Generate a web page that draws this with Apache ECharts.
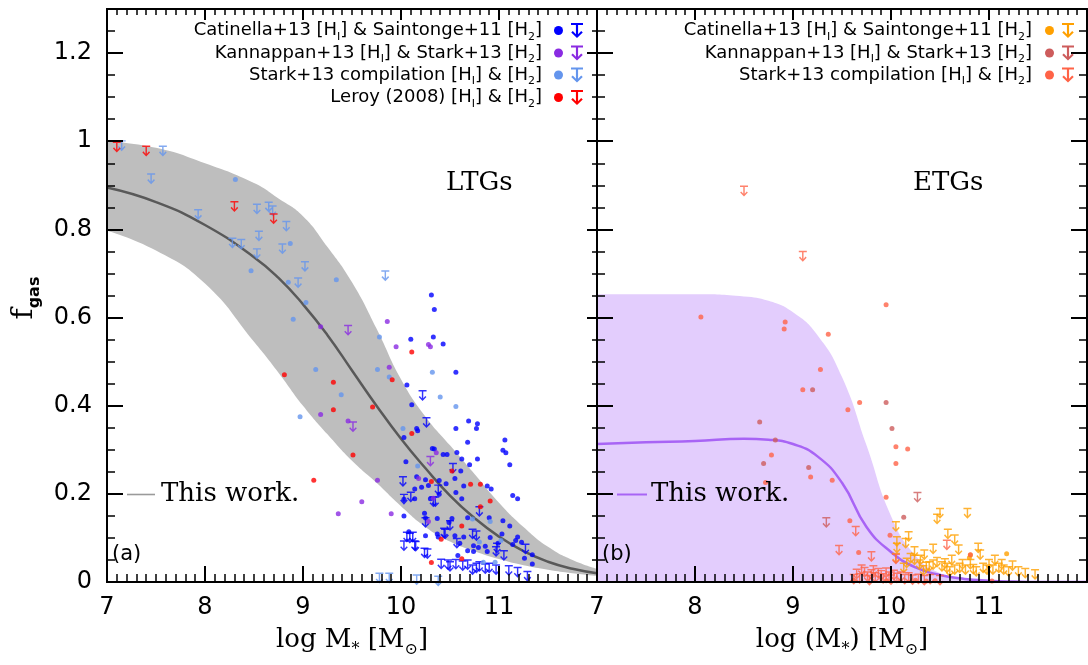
<!DOCTYPE html>
<html>
<head>
<meta charset="utf-8">
<script src="https://cdn.jsdelivr.net/npm/echarts@6/dist/echarts.min.js"></script>
<style>
  html, body { margin: 0; padding: 0; background: #fff; }
  #chart { width: 1088px; height: 665px; }
</style>
</head>
<body>
<div id="chart"></div>
<script>
// ---- model curves: gas fraction vs stellar mass ----
const bandX = [7, 7.5, 8, 8.5, 8.75, 9, 9.25, 9.5, 9.75, 10, 10.25, 10.5, 10.75, 11, 11.25, 11.5, 11.75, 12];
const ltgUpper = [1.0, 0.985, 0.95, 0.905, 0.87, 0.83, 0.76, 0.68, 0.575, 0.46, 0.375, 0.31, 0.245, 0.18, 0.125, 0.08, 0.05, 0.03];
const ltgLower = [0.797, 0.752, 0.677, 0.545, 0.475, 0.40, 0.335, 0.275, 0.225, 0.172, 0.125, 0.092, 0.07, 0.052, 0.038, 0.028, 0.02, 0.014];
const ltgMedian = [0.895, 0.862, 0.81, 0.737, 0.69, 0.63, 0.56, 0.48, 0.40, 0.325, 0.258, 0.196, 0.145, 0.103, 0.07, 0.046, 0.03, 0.02];
const etgUpper = [0.653, 0.653, 0.653, 0.648, 0.638, 0.612, 0.56, 0.465, 0.31, 0.15, 0.06, 0.02, 0.008, 0.004, 0.002, 0.001, 0, 0];
const etgMedian = [0.313, 0.317, 0.320, 0.325, 0.323, 0.313, 0.285, 0.225, 0.125, 0.068, 0.033, 0.016, 0.007, 0.003, 0.001, 0, 0, 0];

// ---- late-type galaxies ----
const ltgCatinellaDet = [[10.31,0.651],[10.34,0.618],[10.33,0.556],[10.10,0.551],[10.43,0.540],[10.56,0.476],[10.06,0.447],[10.11,0.402],[10.56,0.348],[10.16,0.348],[10.17,0.343],[10.03,0.328],[10.69,0.365],[10.78,0.359],[10.77,0.348],[10.68,0.317],[10.34,0.302],[10.43,0.289],[10.47,0.289],[10.57,0.294],[10.62,0.279],[10.78,0.279],[10.70,0.266],[11.06,0.322],[11.04,0.299],[11.07,0.293],[11.11,0.266],[10.05,0.273],[10.16,0.239],[10.25,0.232],[10.39,0.230],[10.55,0.235],[10.61,0.252],[10.46,0.223],[10.64,0.218],[10.14,0.211],[10.21,0.215],[10.28,0.219],[10.39,0.199],[10.56,0.203],[10.62,0.189],[10.88,0.218],[10.92,0.211],[11.14,0.196],[11.19,0.189],[10.03,0.188],[10.14,0.189],[10.30,0.189],[10.03,0.150],[10.24,0.156],[10.25,0.145],[10.37,0.144],[10.52,0.144],[10.49,0.135],[10.68,0.146],[10.90,0.146],[11.04,0.139],[11.11,0.127],[10.08,0.114],[10.25,0.105],[10.37,0.109],[10.55,0.105],[10.64,0.102],[10.74,0.082],[10.79,0.078],[10.86,0.081],[10.91,0.101],[11.03,0.109],[11.19,0.102],[11.17,0.094],[11.23,0.090],[11.14,0.085],[10.99,0.088],[10.60,0.088],[10.68,0.071],[10.74,0.069],[10.88,0.069],[10.58,0.060],[11.34,0.062],[11.34,0.041],[11.26,0.054],[10.38,0.102],[10.32,0.303]];
const ltgCatinellaLim = [[10.22,0.423],[10.26,0.362],[10.53,0.258],[10.02,0.228],[10.03,0.188],[10.10,0.193],[10.33,0.182],[10.38,0.209],[10.80,0.160],[10.25,0.135],[10.50,0.128],[10.45,0.109],[10.57,0.088],[10.73,0.109],[10.77,0.105],[10.06,0.102],[10.03,0.082],[10.12,0.102],[10.14,0.082],[10.24,0.066],[10.27,0.064],[10.97,0.069],[11.05,0.060],[11.27,0.075],[10.41,0.041],[10.50,0.035],[10.63,0.037],[10.68,0.039],[10.77,0.032],[10.90,0.032],[10.97,0.028],[11.10,0.026],[11.19,0.022],[11.29,0.013],[10.73,0.028],[10.80,0.035],[10.48,0.039],[10.98,0.077],[10.44,0.111],[10.15,0.081],[10.09,0.100],[10.35,0.182],[10.56,0.040],[10.86,0.030]];
const ltgKannappanDet = [[9.18,0.579],[9.18,0.380],[9.46,0.365],[9.86,0.591],[9.95,0.534],[10.28,0.539],[10.30,0.534],[9.88,0.487],[9.36,0.155],[9.60,0.182],[9.76,0.231],[9.90,0.155],[10.36,0.293],[10.18,0.235],[10.28,0.137],[10.33,0.190]];
const ltgKannappanLim = [[9.46,0.571],[9.51,0.352],[10.30,0.274]];
const ltgStarkDet = [[8.31,0.913],[8.47,0.706],[8.87,0.768],[8.85,0.680],[8.90,0.596],[9.34,0.686],[9.03,0.634],[9.13,0.482],[9.39,0.425],[8.97,0.375],[9.78,0.556],[9.76,0.482],[9.88,0.465],[10.32,0.476],[10.40,0.420],[10.56,0.398],[10.02,0.348],[10.17,0.263],[10.73,0.143],[10.80,0.091],[11.02,0.094],[10.84,0.045],[10.96,0.045],[10.91,0.137]];
const ltgStarkLim = [[7.15,0.990],[7.57,0.978],[7.45,0.915],[7.93,0.834],[8.28,0.769],[8.37,0.766],[8.53,0.846],[8.65,0.851],[8.69,0.842],[8.83,0.807],[8.55,0.785],[8.53,0.745],[8.79,0.756],[8.95,0.679],[9.02,0.716],[9.84,0.695],[9.78,0.009],[9.88,0.009],[10.16,0.005],[10.38,0.002]];
const ltgLeroyDet = [[8.81,0.470],[9.31,0.453],[9.31,0.391],[9.51,0.288],[9.71,0.397],[9.91,0.459],[10.11,0.522],[9.11,0.231],[10.11,0.337],[10.31,0.228],[10.52,0.252],[10.71,0.222],[10.81,0.222],[10.91,0.184],[10.81,0.171],[10.62,0.127],[10.41,0.097],[10.31,0.044],[10.62,0.053]];
const ltgLeroyLim = [[7.10,0.987],[7.40,0.978],[8.30,0.852],[8.70,0.824]];

// ---- early-type galaxies ----
const etgCatinellaDet = [[11.18,0.064],[10.81,0.061],[10.80,0.055]];
const etgCatinellaLim = [[10.05,0.126],[10.06,0.092],[10.06,0.077],[10.18,0.103],[10.15,0.088],[10.05,0.054],[10.20,0.054],[10.24,0.069],[10.30,0.050],[10.34,0.062],[10.43,0.075],[10.47,0.143],[10.50,0.156],[10.78,0.156],[10.58,0.109],[10.65,0.096],[10.69,0.073],[10.43,0.039],[10.52,0.035],[10.62,0.050],[10.70,0.032],[10.89,0.077],[10.91,0.062],[10.84,0.029],[10.94,0.032],[11.06,0.050],[11.04,0.028],[11.15,0.028],[11.24,0.037],[11.30,0.024],[11.37,0.020],[11.47,0.017],[10.29,0.039],[10.36,0.034],[10.57,0.032],[10.65,0.028],[10.76,0.028],[10.98,0.028],[11.10,0.032],[11.20,0.024],[10.24,0.050],[10.39,0.035],[10.87,0.024],[10.16,0.043],[10.13,0.032],[10.47,0.045],[10.55,0.042],[10.73,0.040],[11.00,0.040],[11.13,0.040],[10.81,0.040],[10.33,0.026],[10.60,0.024]];
const etgKannappanDet = [[9.20,0.436],[9.95,0.407],[10.01,0.348],[8.66,0.363],[8.82,0.322],[10.13,0.147],[9.16,0.260],[8.70,0.269]];
const etgKannappanLim = [[10.27,0.192],[9.34,0.135]];
const etgStarkDet = [[8.06,0.601],[8.92,0.590],[8.91,0.574],[9.36,0.562],[9.28,0.482],[9.10,0.436],[9.68,0.407],[9.56,0.391],[9.95,0.629],[10.05,0.307],[10.17,0.302],[10.05,0.269],[9.95,0.192],[9.99,0.106],[9.67,0.067],[9.58,0.139],[8.78,0.288],[9.18,0.238],[9.40,0.231],[8.72,0.226],[10.81,0.062],[9.62,0.004],[9.95,0.003],[10.25,0.004],[10.45,0.003],[11.03,0.002],[10.36,0.002]];
const etgStarkLim = [[8.50,0.887],[9.10,0.739],[9.64,0.115],[9.47,0.072],[9.80,0.058],[10.05,0.052],[10.57,0.084],[9.65,0.018],[9.70,0.028],[9.73,0.022],[9.76,0.012],[9.80,0.017],[9.82,0.026],[9.84,0.010],[9.87,0.020],[9.90,0.015],[9.92,0.008],[9.95,0.021],[9.98,0.012],[10.00,0.005],[10.03,0.016],[10.06,0.009],[10.10,0.012],[10.14,0.006],[10.18,0.010],[10.22,0.005],[10.28,0.007],[10.34,0.004],[10.40,0.006],[10.50,0.004],[9.62,0.006],[9.68,0.008],[9.78,0.004]];

// ---- styling ----
const SANS = 'DejaVu Sans';
const SERIF = 'DejaVu Serif';
const COL = {
  blue: '#0000ff', purple: '#8a2be2', cornflower: '#6495ed', red: '#ff0000',
  orange: '#ffa000', indian: '#cd5c5c', tomato: '#ff6347',
  ltgBand: '#bebebe', ltgLine: '#595959', etgBand: '#e3cdfd', etgLine: '#a864f5'
};
// upper-limit marker: bar on top, stem, downward chevron (10 x 12.6 box)
const ARROW_PTS = [[0,0],[10,0],[10,1.7],[5.9,1.7],[5.9,9.4],[8.5,6.7],[9.8,8.0],[5,12.6],[0.2,8.0],[1.5,6.7],[4.1,9.4],[4.1,1.7],[0,1.7]];
const ARROW = 'path://M' + ARROW_PTS.map(p => p.join(',')).join(' L') + ' Z';

const pairs = (xs, ys) => xs.map((x, i) => [x, ys[i]]);

function xAxesFor(gi) {
  const common = {
    type: 'value', gridIndex: gi, min: 7, max: 12, interval: 1, z: 10,
    axisLine: { show: true, onZero: false, lineStyle: { color: '#000', width: 2 } },
    splitLine: { show: false }, minorSplitLine: { show: false }
  };
  return [
    Object.assign({}, common, {
      position: 'bottom',
      axisTick: { show: true, inside: true, length: 16, lineStyle: { color: '#000', width: 2 } },
      minorTick: { show: true, splitNumber: 10, length: 8, lineStyle: { color: '#000', width: 1.5 } },
      axisLabel: { show: true, color: '#000', fontFamily: SANS, fontSize: 24, margin: 14, showMaxLabel: false, showMinLabel: true }
    }),
    Object.assign({}, common, {
      position: 'top',
      axisTick: { show: true, inside: true, length: 11, lineStyle: { color: '#000', width: 2 } },
      minorTick: { show: true, splitNumber: 10, length: 6, lineStyle: { color: '#000', width: 1.5 } },
      axisLabel: { show: false }
    })
  ];
}

function yAxesFor(gi, showLabels, rightMajor, rightMinor) {
  const common = {
    type: 'value', gridIndex: gi, min: 0, max: 1.3, z: 10,
    axisLine: { show: true, onZero: false, lineStyle: { color: '#000', width: 2 } },
    splitLine: { show: false }
  };
  const major = (pos, len, labels) => Object.assign({}, common, {
    position: pos, interval: 0.2,
    axisTick: { show: true, inside: true, length: len, lineStyle: { color: '#000', width: 2 } },
    axisLabel: labels
      ? { show: true, color: '#000', fontFamily: SANS, fontSize: 24, margin: 15, showMaxLabel: false, showMinLabel: true }
      : { show: false }
  });
  const minor = (pos, len) => Object.assign({}, common, {
    position: pos, interval: 0.05,
    axisTick: { show: true, inside: true, length: len, lineStyle: { color: '#000', width: 1.5 } },
    axisLabel: { show: false }
  });
  return [major('left', 16, showLabels), minor('left', 8), major('right', rightMajor, false), minor('right', rightMinor)];
}

function dots(name, data, color, gi) {
  return { type: 'scatter', name, data, xAxisIndex: gi * 2, yAxisIndex: gi * 4,
    symbol: 'circle', symbolSize: 5, itemStyle: { color }, z: 4, silent: true };
}
function limits(name, data, color, gi) {
  return { type: 'scatter', name, data, xAxisIndex: gi * 2, yAxisIndex: gi * 4,
    symbol: ARROW, symbolSize: [8, 11], itemStyle: { color }, z: 4, silent: true };
}
function curve(name, xs, ys, gi, extra) {
  return Object.assign({ type: 'line', name, data: pairs(xs, ys), xAxisIndex: gi * 2, yAxisIndex: gi * 4,
    smooth: true, symbol: 'none', silent: true }, extra);
}

// ---- legend and annotation graphics ----
const subRich = (size, lh) => ({
  t: { fontFamily: SANS, fontSize: size, color: '#111', lineHeight: lh, verticalAlign: 'middle' },
  s: { fontFamily: SANS, fontSize: Math.round(size * 0.62), color: '#111', lineHeight: lh, verticalAlign: 'bottom' }
});
const LEGEND_ROWS_Y = [30.5, 53, 75, 97.5];
const ltgLegend = [
  ['{t|Catinella+13 [H}{s|I}{t|] & Saintonge+11 [H}{s|2}{t|]}', COL.blue],
  ['{t|Kannappan+13 [H}{s|I}{t|] & Stark+13 [H}{s|2}{t|]}', COL.purple],
  ['{t|Stark+13 compilation [H}{s|I}{t|] & [H}{s|2}{t|]}', COL.cornflower],
  ['{t|Leroy (2008) [H}{s|I}{t|] & [H}{s|2}{t|]}', COL.red]
];
const etgLegend = [
  ['{t|Catinella+13 [H}{s|I}{t|] & Saintonge+11 [H}{s|2}{t|]}', COL.orange],
  ['{t|Kannappan+13 [H}{s|I}{t|] & Stark+13 [H}{s|2}{t|]}', COL.indian],
  ['{t|Stark+13 compilation [H}{s|I}{t|] & [H}{s|2}{t|]}', COL.tomato]
];

function arrowKey(cx, cy, w, h, color) {
  const sx = w / 10, sy = h / 12.6;
  return { type: 'polygon', z: 20,
    shape: { points: ARROW_PTS.map(p => [cx - w / 2 + p[0] * sx, cy - h / 2 + p[1] * sy]) },
    style: { fill: color } };
}

function legendBlock(rows, textRight, dotX, arrowX) {
  const out = [];
  rows.forEach((r, i) => {
    const y = LEGEND_ROWS_Y[i];
    out.push({ type: 'text', x: textRight, y: y, z: 20,
      style: { text: r[0], rich: subRich(18, 24), align: 'right', verticalAlign: 'middle', textAlign: 'right', textVerticalAlign: 'middle' } });
    out.push({ type: 'circle', z: 20, shape: { cx: dotX, cy: y, r: 4.5 }, style: { fill: r[1] } });
    out.push(arrowKey(arrowX, y, 12, 15, r[1]));
  });
  return out;
}

function plainText(x, y, text, rich, align) {
  return { type: 'text', x, y, z: 20,
    style: { text, rich, align: align || 'left', verticalAlign: 'middle', textAlign: align || 'left', textVerticalAlign: 'middle' } };
}

const serifRich = (size, lh) => ({
  m: { fontFamily: SERIF, fontSize: size, color: '#000', lineHeight: lh, verticalAlign: 'middle' },
  s: { fontFamily: SERIF, fontSize: Math.round(size * 0.6), color: '#000', lineHeight: lh, verticalAlign: 'bottom' }
});

const graphics = []
  .concat(legendBlock(ltgLegend, 542, 558.5, 577))
  .concat(legendBlock(etgLegend, 1032, 1049.5, 1068))
  .concat([
    plainText(446, 183, '{m|LTGs}', serifRich(26, 30)),
    plainText(913, 183, '{m|ETGs}', serifRich(26, 30)),
    plainText(112, 555, '{t|(a)}', subRich(21, 26)),
    plainText(602, 555, '{t|(b)}', subRich(21, 26)),
    { type: 'line', z: 20, shape: { x1: 127, y1: 494.5, x2: 155, y2: 494.5 }, style: { stroke: '#9a9a9a', lineWidth: 1.6 } },
    plainText(161, 494, '{m|This work.}', serifRich(26, 30)),
    { type: 'line', z: 20, shape: { x1: 617, y1: 494.5, x2: 647, y2: 494.5 }, style: { stroke: COL.etgLine, lineWidth: 2 } },
    plainText(651, 494, '{m|This work.}', serifRich(26, 30)),
    plainText(352, 640, '{m|log M}{s|*}{m| [M}{s|⊙}{m|]}', serifRich(26, 36), 'center'),
    plainText(842, 640, '{m|log (M}{s|*}{m|) [M}{s|⊙}{m|]}', serifRich(26, 36), 'center'),
    { type: 'text', x: 24, y: 298, rotation: Math.PI / 2, z: 20,
      style: { text: '{f|f}{s|gas}',
        rich: {
          f: { fontFamily: SERIF, fontSize: 30, color: '#000', lineHeight: 38, verticalAlign: 'middle' },
          s: { fontFamily: SANS, fontSize: 16, fontWeight: 'bold', color: '#000', lineHeight: 38, verticalAlign: 'bottom' }
        },
        align: 'center', verticalAlign: 'middle', textAlign: 'center', textVerticalAlign: 'middle' } }
  ]);

const option = {
  animation: false,
  backgroundColor: '#fff',
  grid: [
    { left: 107, top: 9, width: 490, height: 573, outerBoundsMode: 'none', containLabel: false },
    { left: 597, top: 9, width: 490, height: 573, outerBoundsMode: 'none', containLabel: false }
  ],
  xAxis: xAxesFor(0).concat(xAxesFor(1)),
  yAxis: yAxesFor(0, true, 10, 5).concat(yAxesFor(1, false, 16, 8)),
  series: [
    // LTG scatter band: grey down to the upper edge, cleared below the lower edge
    curve('ltgBandUpper', bandX, ltgUpper, 0, { lineStyle: { opacity: 0 }, areaStyle: { color: COL.ltgBand, opacity: 1 }, z: 1 }),
    curve('ltgBandLower', bandX, ltgLower, 0, { lineStyle: { opacity: 0 }, areaStyle: { color: '#ffffff', opacity: 1 }, z: 2 }),
    curve('This work. (LTG)', bandX, ltgMedian, 0, { lineStyle: { color: COL.ltgLine, width: 2.5 }, z: 3 }),
    dots('Catinella+13 & Saintonge+11', ltgCatinellaDet, COL.blue, 0),
    limits('Catinella+13 & Saintonge+11 (limits)', ltgCatinellaLim, COL.blue, 0),
    dots('Kannappan+13 & Stark+13', ltgKannappanDet, COL.purple, 0),
    limits('Kannappan+13 & Stark+13 (limits)', ltgKannappanLim, COL.purple, 0),
    dots('Stark+13 compilation', ltgStarkDet, COL.cornflower, 0),
    limits('Stark+13 compilation (limits)', ltgStarkLim, COL.cornflower, 0),
    dots('Leroy (2008)', ltgLeroyDet, COL.red, 0),
    limits('Leroy (2008) (limits)', ltgLeroyLim, COL.red, 0),

    // ETG band and median
    curve('etgBand', bandX, etgUpper, 1, { lineStyle: { opacity: 0 }, areaStyle: { color: COL.etgBand, opacity: 1 }, z: 1 }),
    curve('This work. (ETG)', bandX, etgMedian, 1, { lineStyle: { color: COL.etgLine, width: 2.5 }, z: 3 }),
    dots('Catinella+13 & Saintonge+11 ETG', etgCatinellaDet, COL.orange, 1),
    limits('Catinella+13 & Saintonge+11 ETG (limits)', etgCatinellaLim, COL.orange, 1),
    dots('Kannappan+13 & Stark+13 ETG', etgKannappanDet, COL.indian, 1),
    limits('Kannappan+13 & Stark+13 ETG (limits)', etgKannappanLim, COL.indian, 1),
    dots('Stark+13 compilation ETG', etgStarkDet, COL.tomato, 1),
    limits('Stark+13 compilation ETG (limits)', etgStarkLim, COL.tomato, 1)
  ],
  graphic: graphics
};

const chart = echarts.init(document.getElementById('chart'), null, { renderer: 'canvas' });
chart.setOption(option);
</script>
</body>
</html>
